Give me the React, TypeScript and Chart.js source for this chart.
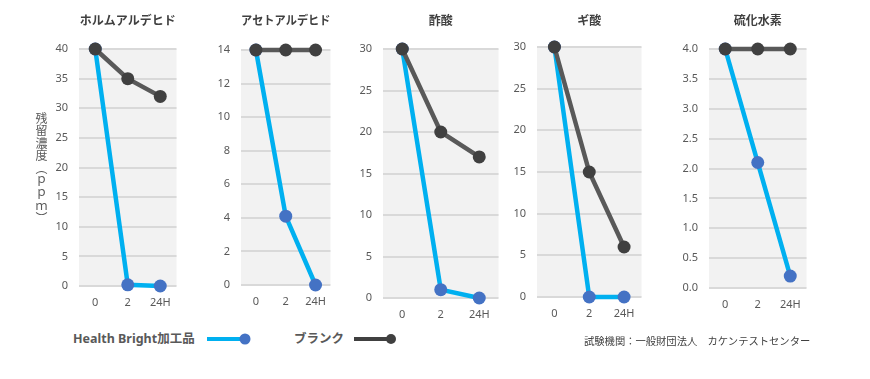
import React, { useEffect, useRef } from 'react';
import { Chart, registerables } from 'chart.js';

Chart.register(...registerables);

// ---------- data ----------
const timeLabels = ['0', '2', '24H'];
const chartTitles = ['ホルムアルデヒド', 'アセトアルデヒド', '酢酸', 'ギ酸', '硫化水素'];
const seriesNames = ['Health Bright加工品', 'ブランク'];
const yAxisTitle = '残留濃度（ｐｐｍ）';
const sourceNote = '試験機関：一般財団法人　カケンテストセンター';

const formaldehydeHB = [40, 0.2, 0];
const formaldehydeBlank = [40, 35, 32];
const acetaldehydeHB = [14, 4.1, 0];
const acetaldehydeBlank = [14, 14, 14];
const aceticAcidHB = [30, 1, 0];
const aceticAcidBlank = [30, 20, 17];
const formicAcidHB = [30, 0, 0];
const formicAcidBlank = [30, 15, 6];
const hydrogenSulfideHB = [4.0, 2.1, 0.2];
const hydrogenSulfideBlank = [4.0, 4.0, 4.0];

const yAxisMax = [40, 14, 30, 30, 4];
const yAxisStep = [5, 2, 5, 5, 0.5];
const yTickDecimals = [0, 0, 0, 0, 1];

const hbSeries = [formaldehydeHB, acetaldehydeHB, aceticAcidHB, formicAcidHB, hydrogenSulfideHB];
const blankSeries = [formaldehydeBlank, acetaldehydeBlank, aceticAcidBlank, formicAcidBlank, hydrogenSulfideBlank];

// ---------- layout / style ----------
const panelBoxes = [
  { plotLeft: 79, plotRight: 179, plotTop: 49, plotBottom: 285.5 },
  { plotLeft: 241, plotRight: 333, plotTop: 50, plotBottom: 285 },
  { plotLeft: 383, plotRight: 501, plotTop: 49, plotBottom: 298 },
  { plotLeft: 537, plotRight: 644, plotTop: 47, plotBottom: 297 },
  { plotLeft: 709, plotRight: 809, plotTop: 49, plotBottom: 287.5 },
];
const Y_W = 45;
const X_H = 30;
const RIGHT_PAD = 4;
const TITLE_TOP = 14;
const FONT = '"Noto Sans", "Noto Sans CJK JP", sans-serif';
const HB_LINE = '#00b0f0';
const HB_POINT = '#4472c4';
const BL_LINE = '#595959';
const BL_POINT = '#404040';

const plotBackground = {
  id: 'plotBackground',
  beforeDraw(chart: any) {
    const { ctx, chartArea } = chart;
    if (!chartArea) return;
    ctx.save();
    ctx.fillStyle = '#f2f2f2';
    ctx.fillRect(chartArea.left, chartArea.top, chartArea.right - chartArea.left, chartArea.bottom - chartArea.top);
    ctx.restore();
  },
};

function Panel({ idx }: { idx: number }) {
  const ref = useRef<HTMLCanvasElement>(null);
  const box = panelBoxes[idx];
  const left = box.plotLeft - Y_W;
  const width = Math.round(box.plotRight + RIGHT_PAD - left);
  const height = Math.round(box.plotBottom + X_H);

  useEffect(() => {
    if (!ref.current) return;
    const dec = yTickDecimals[idx];
    const chart = new Chart(ref.current, {
      type: 'line',
      data: {
        labels: timeLabels,
        datasets: [
          {
            label: seriesNames[1],
            data: blankSeries[idx],
            borderColor: BL_LINE,
            backgroundColor: BL_POINT,
            pointBackgroundColor: BL_POINT,
            pointBorderColor: BL_POINT,
            pointBorderWidth: 0,
            pointRadius: 6.5,
            borderWidth: 4.5,
            clip: false,
            order: 0,
          },
          {
            label: seriesNames[0],
            data: hbSeries[idx],
            borderColor: HB_LINE,
            backgroundColor: HB_POINT,
            pointBackgroundColor: HB_POINT,
            pointBorderColor: HB_POINT,
            pointBorderWidth: 0,
            pointRadius: 6.5,
            borderWidth: 4.5,
            clip: false,
            order: 1,
          },
        ],
      },
      options: {
        responsive: false,
        maintainAspectRatio: false,
        animation: false,
        layout: { padding: { left: 0, right: RIGHT_PAD, top: 0, bottom: 0 } },
        plugins: {
          legend: { display: false },
          tooltip: { enabled: false },
          title: {
            display: true,
            text: chartTitles[idx],
            fullSize: false,
            color: '#404040',
            font: { family: FONT, size: 12, weight: 'bold' },
            padding: { top: TITLE_TOP, bottom: box.plotTop - TITLE_TOP - 14.4 },
          },
        },
        scales: {
          x: {
            offset: true,
            grid: { display: false, drawTicks: false },
            border: { display: false },
            ticks: { color: '#595959', font: { family: FONT, size: 11 }, padding: 10, maxRotation: 0 },
            afterFit: (s: any) => { s.height = X_H; },
          },
          y: {
            min: 0,
            max: yAxisMax[idx],
            grid: { color: '#d9d9d9', lineWidth: 2, drawTicks: false },
            border: { display: false },
            ticks: {
              stepSize: yAxisStep[idx],
              color: '#595959',
              font: { family: FONT, size: 11 },
              padding: 11,
              callback: (v: any) => Number(v).toFixed(dec),
            },
            afterFit: (s: any) => { s.width = Y_W; },
          },
        },
      } as any,
      plugins: [plotBackground],
    });
    return () => chart.destroy();
  }, [idx]);

  return (
    <canvas
      ref={ref}
      width={width}
      height={height}
      style={{ position: 'absolute', left, top: 0, width, height }}
    />
  );
}

export default function App() {
  return (
    <div
      style={{
        position: 'fixed',
        left: 0,
        top: 0,
        width: 870,
        height: 379,
        background: '#ffffff',
        overflow: 'hidden',
        fontFamily: FONT,
      }}
    >
      {chartTitles.map((_, i) => (
        <Panel key={i} idx={i} />
      ))}
      <div
        style={{
          position: 'absolute',
          left: 35,
          top: 112,
          writingMode: 'vertical-rl',
          fontFamily: '"Noto Sans CJK JP", sans-serif',
          fontSize: 12,
          letterSpacing: '0.6px',
          lineHeight: '13px',
          color: '#595959',
          whiteSpace: 'nowrap',
        }}
      >
        {yAxisTitle}
      </div>
      {/* legend */}
      <div
        style={{
          position: 'absolute',
          left: 73,
          top: 330,
          fontSize: 12.5,
          lineHeight: '18px',
          fontWeight: 'bold',
          color: '#595959',
          whiteSpace: 'nowrap',
        }}
      >
        {seriesNames[0]}
      </div>
      <svg style={{ position: 'absolute', left: 200, top: 330, width: 60, height: 20 }}>
        <line x1={7} y1={9} x2={45} y2={9} stroke={HB_LINE} strokeWidth={4} />
        <circle cx={45} cy={9} r={5.5} fill={HB_POINT} />
      </svg>
      <div
        style={{
          position: 'absolute',
          left: 294,
          top: 330,
          fontSize: 12.5,
          lineHeight: '18px',
          fontWeight: 'bold',
          color: '#595959',
          whiteSpace: 'nowrap',
        }}
      >
        {seriesNames[1]}
      </div>
      <svg style={{ position: 'absolute', left: 346, top: 330, width: 60, height: 20 }}>
        <line x1={8} y1={9} x2={45} y2={9} stroke={BL_POINT} strokeWidth={4} />
        <circle cx={45} cy={9} r={5} fill={BL_POINT} />
      </svg>
      <div
        style={{
          position: 'absolute',
          left: 584,
          top: 333,
          fontSize: 10.3,
          lineHeight: '16px',
          color: '#404040',
          whiteSpace: 'nowrap',
        }}
      >
        {sourceNote}
      </div>
    </div>
  );
}
